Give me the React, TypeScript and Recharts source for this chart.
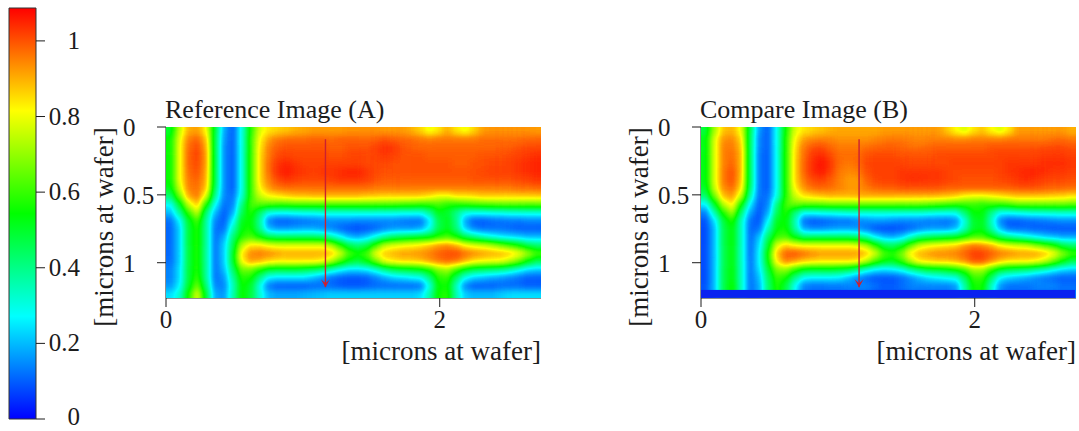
import React from 'react'
import { BarChart, Bar, ScatterChart, Scatter, XAxis, YAxis } from 'recharts'

const FONT = '"Liberation Serif", serif'
const INK = '#1c1c1c'
const ARROW = '#cc2030'

// intensity x 100 (21 rows of 42 columns)
const imageA = [
  [50,75,90,92,82,48,18,10,30,58,78,84,86,88,90,91,92,92,92,92,93,93,93,93,92,92,92,90,86,80,84,90,84,80,86,92,93,93,93,93,93,92],
  [55,79,95,98,88,46,16,10,30,60,82,92,96,97,97,97,98,98,97,98,98,98,98,99,100,99,98,97,96,95,96,96,96,96,96,97,97,97,97,97,98,98],
  [55,80,97,101,91,46,15,10,30,60,84,95,99,100,100,100,100,100,99,99,100,100,100,102,104,103,100,99,98,98,98,98,98,98,98,98,98,99,99,100,101,101],
  [55,80,98,102,92,46,15,10,30,60,85,96,101,102,101,101,101,101,100,100,101,102,101,102,103,102,100,100,100,99,99,99,99,99,99,100,100,100,101,102,103,104],
  [55,80,98,101,92,46,15,10,30,60,85,97,103,105,103,102,102,102,102,102,102,102,101,101,101,100,100,100,100,100,100,100,99,99,100,100,101,101,102,103,104,105],
  [55,80,97,100,91,46,15,10,30,60,85,97,104,106,104,103,102,103,103,104,105,105,103,101,100,100,100,100,100,100,100,100,100,100,100,101,102,102,102,103,104,105],
  [55,80,96,98,90,46,15,10,30,60,85,95,101,103,102,101,101,101,102,103,103,103,102,100,99,99,99,99,99,99,99,99,99,99,100,100,100,100,100,101,102,103],
  [52,76,95,97,88,44,15,10,30,60,82,92,96,97,97,97,97,97,97,97,97,97,97,96,96,96,96,96,96,96,96,96,96,96,96,96,96,96,96,97,97,98],
  [42,66,90,96,78,38,14,12,32,60,76,82,84,86,88,88,89,89,89,89,89,89,88,88,87,87,87,87,86,84,80,80,84,84,85,87,87,87,87,87,87,87],
  [28,50,76,88,58,28,12,14,40,62,64,63,62,62,63,63,63,63,63,63,63,63,63,63,63,63,62,62,60,60,62,58,58,60,62,63,64,65,65,65,65,65],
  [20,38,60,76,42,20,10,18,46,58,44,30,28,28,29,30,30,31,31,31,31,31,31,31,31,31,30,30,30,38,52,50,40,30,29,29,30,30,31,31,31,31],
  [12,26,50,62,38,14,10,26,52,55,38,14,10,10,11,12,13,14,15,15,15,14,14,14,14,14,13,12,12,24,46,52,40,18,10,10,11,12,13,13,14,14],
  [11,22,48,58,38,12,12,34,54,56,40,20,16,16,17,18,18,16,14,11,9,8,9,11,14,16,16,16,18,28,46,52,42,22,14,12,12,12,11,10,10,10],
  [11,22,48,58,38,12,18,42,58,62,54,46,44,44,44,44,44,42,36,28,20,18,22,30,38,44,46,48,50,52,58,62,56,46,40,34,30,26,24,22,20,20],
  [11,22,48,58,38,12,22,46,74,84,84,80,78,78,78,78,78,78,72,58,46,42,46,60,74,78,80,82,84,88,92,94,90,82,78,76,72,66,60,54,46,42],
  [11,22,48,58,38,12,22,50,84,94,96,94,92,90,90,90,90,90,88,78,62,56,62,80,88,90,92,92,93,95,98,100,101,97,94,92,91,90,88,82,72,62],
  [12,22,48,58,38,12,22,50,82,92,90,86,84,84,84,84,84,82,74,62,52,48,54,66,80,84,86,86,88,92,96,98,96,90,84,82,81,80,74,66,54,46],
  [14,24,48,58,38,12,20,44,66,66,58,50,48,48,48,46,44,40,34,28,24,24,26,32,40,46,48,50,52,58,68,72,62,52,46,44,42,40,36,30,24,22],
  [14,24,48,60,38,12,16,38,58,56,40,26,24,24,24,24,20,16,12,10,9,9,10,14,18,22,24,26,28,40,58,60,44,28,22,20,18,16,14,12,10,10],
  [16,26,50,66,42,14,14,34,56,50,30,13,10,10,10,10,11,11,11,10,9,9,10,11,11,11,11,11,12,30,54,56,34,14,10,10,10,11,11,11,10,10],
  [24,32,56,78,48,18,16,36,56,48,32,20,18,18,18,19,20,21,22,22,22,22,22,22,22,22,22,22,24,36,56,58,36,22,20,20,20,22,24,24,24,24],
]

const imageB = [
  [48,72,88,90,80,46,16,10,28,56,78,84,86,88,90,91,91,91,91,91,92,92,92,92,92,92,92,88,82,78,84,88,82,78,84,92,92,92,92,92,92,90],
  [52,78,93,94,85,44,14,10,28,58,82,92,94,95,94,93,93,93,93,94,95,96,96,95,94,95,95,95,94,94,95,95,95,95,96,96,96,96,96,97,97,96],
  [52,78,95,96,88,44,14,10,28,58,84,96,100,101,98,96,96,96,97,98,99,99,98,97,97,98,99,99,99,99,99,99,100,100,100,100,100,100,101,101,101,100],
  [52,78,95,97,89,44,13,10,28,58,85,97,103,105,101,97,97,97,100,101,101,101,100,100,100,100,101,101,101,101,101,101,101,102,102,102,102,102,103,103,103,102],
  [52,78,95,98,89,44,13,10,28,58,85,98,104,107,103,97,96,97,101,102,102,102,102,101,101,101,101,101,102,102,102,102,102,102,103,103,103,103,104,104,104,103],
  [52,78,96,100,89,44,13,10,28,58,85,98,104,106,102,96,94,95,100,102,102,102,103,103,103,103,103,102,101,101,101,101,101,102,103,104,105,105,104,103,103,102],
  [52,78,96,100,88,44,13,10,28,58,85,96,101,102,99,95,92,92,98,101,102,102,103,104,104,103,103,102,101,100,100,100,100,101,102,103,104,103,102,101,101,100],
  [50,76,94,97,85,42,13,10,28,58,82,93,97,98,97,95,93,93,96,98,99,99,100,100,100,100,100,99,99,99,99,99,99,99,99,100,100,100,99,98,98,97],
  [42,66,88,92,75,36,12,12,30,58,76,84,86,88,89,89,89,90,90,90,90,90,90,90,90,90,89,88,86,82,80,80,82,84,86,88,88,88,88,87,86,84],
  [26,50,74,84,56,26,10,14,40,62,66,65,65,65,66,66,66,66,66,66,66,66,66,66,66,65,64,62,60,60,60,58,60,60,62,66,66,66,66,66,66,65],
  [14,36,58,72,42,18,9,18,46,58,42,28,28,30,30,31,32,32,32,32,32,32,32,32,32,31,30,30,30,42,54,54,40,28,28,30,31,32,32,33,33,33],
  [9,24,48,58,34,12,9,26,52,55,36,12,9,10,11,12,12,14,15,16,16,15,14,14,14,13,13,12,14,30,50,52,34,14,9,10,11,12,13,14,15,15],
  [8,20,46,54,34,11,12,34,54,56,38,18,15,15,16,17,17,16,13,9,8,8,9,11,14,16,16,16,20,34,50,52,38,20,12,11,11,10,10,9,9,9],
  [8,20,46,54,34,11,20,44,60,62,52,44,44,44,44,44,44,42,36,26,20,18,22,32,40,44,46,48,50,56,62,62,54,44,38,34,30,26,22,20,18,18],
  [8,20,46,54,34,11,24,50,78,86,82,80,80,80,80,80,80,78,72,58,46,44,50,64,76,80,82,84,86,92,96,94,90,82,78,76,74,68,62,56,46,42],
  [8,20,46,54,34,11,26,56,88,99,100,97,94,92,92,92,92,92,88,78,62,58,68,84,90,92,94,94,95,98,102,102,99,96,94,92,92,92,89,82,70,60],
  [8,20,46,54,34,12,26,54,84,95,92,88,86,85,85,85,85,83,75,62,54,52,60,74,84,86,88,88,90,94,100,100,94,88,84,84,84,82,76,66,54,46],
  [8,20,46,54,34,12,24,48,68,70,60,52,50,50,50,48,46,40,32,26,24,26,30,38,44,48,50,52,56,62,72,72,60,50,46,44,42,38,34,28,24,22],
  [8,20,46,54,34,12,20,44,60,56,40,28,26,26,26,25,20,15,11,9,9,9,11,15,20,24,26,28,30,44,60,60,44,26,22,20,18,15,13,11,10,10],
  [9,20,46,56,34,12,18,42,58,48,28,14,12,12,13,13,14,14,14,12,10,10,12,14,14,14,14,14,16,36,56,56,34,16,12,12,12,14,14,14,12,12],
  [9,20,46,56,34,12,18,42,58,48,28,14,12,12,12,12,12,12,12,10,10,10,10,12,12,12,12,12,14,36,56,56,34,14,12,12,12,12,12,12,12,12],
]

const colorTicks = [0, 0.2, 0.4, 0.6, 0.8, 1]
const colorMax = 1.087
const colorStops = ['#0000ff', '#00ffff', '#00ff00', '#ffff00', '#ff0000']
const colorBarData = [{ name: 'scale', value: colorMax }]

const xTicks = [0, 2]
const yTicks = [0, 0.5, 1]
const xMax = 2.74
const yMax = 1.26
const arrowA = [{ x: 1.165, y: 0.09 }, { x: 1.165, y: 1.18 }]
const arrowB = [{ x: 1.155, y: 0.09 }, { x: 1.155, y: 1.18 }]
// masked band at the bottom of image B
const stripB = [{ x: xMax / 2, y: 1.23, from: 1.2 }]

const PLOT_W = 375
const PLOT_H = 171
const PLOT_LEFT = 76
const PLOT_TOP = 37
const CHART_H = 290

function heatCells(rows: number[][]) {
  return rows.flatMap((row, r) =>
    row.map((v, c) => ({
      x: ((c + 0.5) * xMax) / row.length,
      y: ((r + 0.5) * yMax) / rows.length,
      value: v / 100,
      r,
      c,
      nr: rows.length,
      nc: row.length,
    })),
  )
}

function HeatCell(props: any) {
  const { cx, cy, payload } = props
  const w = PLOT_W / payload.nc
  const h = PLOT_H / payload.nr
  // outer cells run past the plot so the blur doesn't fade at the border
  const left = cx - w / 2 - (payload.c === 0 ? 14 : 0)
  const right = cx + w / 2 + (payload.c === payload.nc - 1 ? 14 : 0.5)
  const top = cy - h / 2 - (payload.r === 0 ? 14 : 0)
  const bottom = cy + h / 2 + (payload.r === payload.nr - 1 ? 14 : 0.5)
  const g = Math.round((payload.value / colorMax) * 255)
  return <rect x={left} y={top} width={right - left} height={bottom - top} fill={`rgb(${g},${g},${g})`} />
}

function StripShape(props: any) {
  const { cy } = props
  return <rect x={PLOT_LEFT} y={cy - 4} width={PLOT_W - 1} height={8} fill="#0a22f0" />
}

function ArrowHead(props: any) {
  const { cx, cy, index } = props
  if (index !== 1) return <g />
  return <path d={`M${cx - 4.5} ${cy - 8} L${cx} ${cy} L${cx + 4.5} ${cy - 8} L${cx} ${cy - 4} Z`} fill={ARROW} />
}

function XTick(props: any) {
  const { x, y, payload } = props
  return (
    <text x={x} y={y + 19} textAnchor="middle" fontFamily={FONT} fontSize={25} fill={INK}>
      {payload.value}
    </text>
  )
}

function YTick(props: any) {
  const { y, payload } = props
  return (
    <text x={PLOT_LEFT - 43} y={y + 9} fontFamily={FONT} fontSize={25} fill={INK}>
      {payload.value}
    </text>
  )
}

function ColorTick(props: any) {
  const { y, payload } = props
  return (
    <text x={80} y={y + (payload.value === 0 ? 6 : 8)} textAnchor="end" fontFamily={FONT} fontSize={25} fill={INK}>
      {payload.value}
    </text>
  )
}

function ImagePanel({ id, left, width, title, rows, arrow, strip }: any) {
  return (
    <div style={{ position: 'absolute', left, top: 90 }}>
      <style>{`.${id}-heat{filter:url(#${id}-filter);clip-path:url(#${id}-clip);}`}</style>
      <ScatterChart
        width={width}
        height={CHART_H}
        margin={{ top: PLOT_TOP, right: width - PLOT_LEFT - PLOT_W, bottom: 42, left: 0 }}
      >
        <defs>
          <clipPath id={`${id}-clip`}>
            <rect x={PLOT_LEFT} y={PLOT_TOP} width={PLOT_W} height={PLOT_H} />
          </clipPath>
          <filter
            id={`${id}-filter`}
            filterUnits="userSpaceOnUse"
            x={0}
            y={0}
            width={width}
            height={CHART_H}
            colorInterpolationFilters="sRGB"
          >
            <feGaussianBlur stdDeviation={3} />
            <feComponentTransfer>
              <feFuncR type="table" tableValues="0 0 0 1 1" />
              <feFuncG type="table" tableValues="0 1 1 1 0" />
              <feFuncB type="table" tableValues="1 1 0 0 0" />
            </feComponentTransfer>
          </filter>
        </defs>
        <XAxis
          type="number"
          dataKey="x"
          domain={[0, xMax]}
          ticks={xTicks}
          height={40}
          tickSize={9}
          tick={<XTick />}
          stroke={INK}
        />
        <YAxis
          type="number"
          dataKey="y"
          domain={[0, yMax]}
          reversed
          ticks={yTicks}
          width={PLOT_LEFT}
          tickSize={9}
          tick={<YTick />}
          stroke={INK}
        />
        <Scatter className={`${id}-heat`} data={heatCells(rows)} shape={<HeatCell />} isAnimationActive={false} />
        {strip && <Scatter data={strip} shape={<StripShape />} isAnimationActive={false} />}
        <Scatter
          data={arrow}
          line={{ stroke: ARROW, strokeWidth: 1.4 }}
          shape={<ArrowHead />}
          isAnimationActive={false}
        />
        <text x={PLOT_LEFT - 1} y={28} fontFamily={FONT} fontSize={26} fill={INK}>
          {title}
        </text>
        <text x={PLOT_LEFT + PLOT_W} y={270} textAnchor="end" fontFamily={FONT} fontSize={27} fill={INK}>
          [microns at wafer]
        </text>
        <text
          transform={`rotate(-90 ${PLOT_LEFT - 53} 137)`}
          x={PLOT_LEFT - 53}
          y={137}
          textAnchor="middle"
          fontFamily={FONT}
          fontSize={27}
          fill={INK}
        >
          [microns at wafer]
        </text>
      </ScatterChart>
    </div>
  )
}

function ColorBar() {
  return (
    <div style={{ position: 'absolute', left: 0, top: 0 }}>
      <BarChart
        width={90}
        height={431}
        data={colorBarData}
        margin={{ top: 8, right: 0, bottom: 12, left: 9 }}
        barCategoryGap={0}
      >
        <defs>
          <linearGradient id="colorScale" x1="0" y1="1" x2="0" y2="0">
            {colorStops.map((color, i) => (
              <stop key={color} offset={i / (colorStops.length - 1)} stopColor={color} />
            ))}
          </linearGradient>
        </defs>
        <XAxis dataKey="name" hide />
        <YAxis
          orientation="right"
          type="number"
          domain={[0, colorMax]}
          ticks={colorTicks}
          width={54}
          axisLine={false}
          tickSize={9}
          tick={<ColorTick />}
          stroke={INK}
        />
        <Bar dataKey="value" fill="url(#colorScale)" stroke="#333" strokeWidth={1} isAnimationActive={false} />
      </BarChart>
    </div>
  )
}

export default function App() {
  return (
    <div style={{ position: 'absolute', left: 0, top: 0, width: 1079, height: 431, background: '#fff', overflow: 'hidden' }}>
      <ColorBar />
      <ImagePanel id="a" left={90} width={470} title="Reference Image (A)" rows={imageA} arrow={arrowA} />
      <ImagePanel id="b" left={625} width={454} title="Compare Image (B)" rows={imageB} arrow={arrowB} strip={stripB} />
    </div>
  )
}
